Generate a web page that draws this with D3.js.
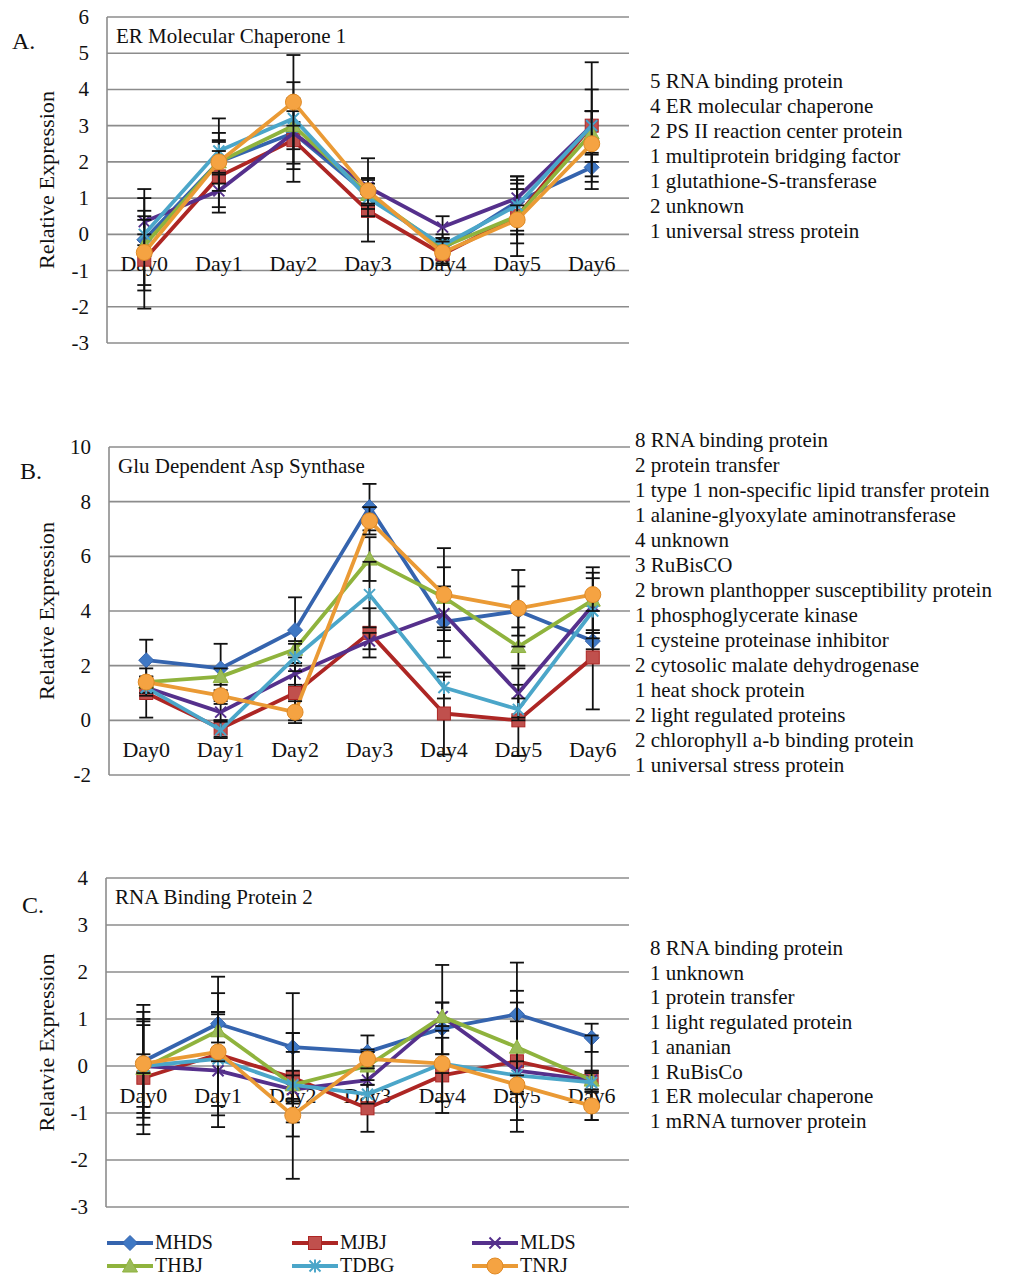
<!DOCTYPE html>
<html>
<head>
<meta charset="utf-8">
<script src="https://cdn.jsdelivr.net/npm/d3@7"></script>
<style>
  body { margin: 0; background: #fff; }
  svg { display: block; }
</style>
</head>
<body>
<svg id="chart" width="1021" height="1279"></svg>
<script>
// Shared categories and series
const days = ['Day0', 'Day1', 'Day2', 'Day3', 'Day4', 'Day5', 'Day6']
const seriesNames = ['MHDS', 'MJBJ', 'MLDS', 'THBJ', 'TDBG', 'TNRJ']
const seriesColors = ['#3564ae', '#ad2624', '#55308c', '#8fb33d', '#4ba6c9', '#ea9a35']
const markerFills = ['#3f78c4', '#c0504d', '#55308c', '#9bbb59', '#4bacc6', '#f5a342']
const markerTypes = ['diamond', 'square', 'x', 'triangle', 'star', 'circle']

// Panel A: ER Molecular Chaperone 1 (rows follow seriesNames)
const aTicks = [6, 5, 4, 3, 2, 1, 0, -1, -2, -3]
const aMeans = [
  [-0.15, 2.0, 2.8, 1.1, -0.4, 0.9, 1.85],
  [-0.7, 1.6, 2.6, 0.65, -0.55, 0.5, 3.0],
  [0.35, 1.2, 2.8, 1.3, 0.2, 1.0, 3.0],
  [-0.3, 2.0, 3.0, 1.1, -0.35, 0.5, 2.8],
  [0.0, 2.3, 3.2, 1.0, -0.3, 0.8, 3.0],
  [-0.5, 2.0, 3.65, 1.2, -0.5, 0.4, 2.5]
]
const aErrors = [
  [1.4, 0.55, 0.3, 0.45, 0.3, 0.5, 0.4],
  [1.35, 1.0, 1.15, 0.85, 0.3, 1.1, 1.75],
  [0.65, 0.45, 0.85, 0.8, 0.3, 0.6, 1.0],
  [0.3, 0.8, 1.2, 0.3, 0.2, 0.75, 0.6],
  [0.5, 0.9, 0.2, 0.3, 0.3, 0.7, 0.4],
  [0.9, 0.3, 1.3, 0.35, 0.3, 0.4, 0.9]
]
const aNotes = [
  '5 RNA binding protein',
  '4 ER molecular chaperone',
  '2 PS II reaction center protein',
  '1 multiprotein bridging factor',
  '1 glutathione-S-transferase',
  '2 unknown',
  '1 universal stress protein'
]

// Panel B: Glu Dependent Asp Synthase
const bTicks = [10, 8, 6, 4, 2, 0, -2]
const bMeans = [
  [2.2, 1.9, 3.3, 7.8, 3.6, 4.0, 2.9],
  [1.0, -0.3, 1.0, 3.2, 0.25, 0.0, 2.3],
  [1.2, 0.3, 1.7, 2.9, 3.9, 1.0, 4.2],
  [1.4, 1.6, 2.6, 5.9, 4.5, 2.7, 4.4],
  [1.2, -0.35, 2.3, 4.6, 1.2, 0.4, 4.0],
  [1.4, 0.9, 0.3, 7.3, 4.6, 4.1, 4.6]
]
const bErrors = [
  [0.75, 0.9, 1.2, 0.85, 1.3, 0.9, 0.3],
  [0.9, 0.3, 1.0, 0.9, 1.5, 1.3, 1.9],
  [0.3, 0.3, 0.4, 0.3, 0.6, 0.9, 1.2],
  [0.2, 0.3, 0.3, 0.8, 1.1, 0.7, 1.2],
  [0.2, 0.3, 0.5, 1.2, 0.4, 0.4, 0.7],
  [0.2, 0.2, 0.4, 0.5, 1.7, 1.4, 0.6]
]
const bNotes = [
  '8 RNA binding protein',
  '2 protein transfer',
  '1 type 1 non-specific lipid transfer protein',
  '1 alanine-glyoxylate aminotransferase',
  '4 unknown',
  '3 RuBisCO',
  '2 brown planthopper susceptibility protein',
  '1 phosphoglycerate kinase',
  '1 cysteine proteinase inhibitor',
  '2 cytosolic malate dehydrogenase',
  '1 heat shock protein',
  '2 light regulated proteins',
  '2 chlorophyll a-b binding protein',
  '1 universal stress protein'
]

// Panel C: RNA Binding Protein 2
const cTicks = [4, 3, 2, 1, 0, -1, -2, -3]
const cMeans = [
  [0.1, 0.9, 0.4, 0.3, 0.8, 1.1, 0.6],
  [-0.25, 0.25, -0.25, -0.9, -0.2, 0.1, -0.25],
  [0.0, -0.1, -0.5, -0.3, 1.05, -0.1, -0.3],
  [-0.05, 0.75, -0.4, 0.0, 1.05, 0.4, -0.3],
  [0.0, 0.15, -0.4, -0.6, 0.05, -0.2, -0.35],
  [0.05, 0.3, -1.05, 0.15, 0.05, -0.4, -0.85]
]
const cErrors = [
  [1.2, 1.0, 1.15, 0.35, 0.55, 1.1, 0.3],
  [1.2, 1.3, 0.95, 0.5, 0.8, 1.5, 0.9],
  [1.0, 1.2, 0.3, 0.3, 1.1, 1.05, 0.2],
  [1.2, 0.4, 1.1, 0.3, 0.3, 0.95, 0.2],
  [0.87, 1.0, 0.3, 0.2, 0.8, 0.3, 0.2],
  [0.2, 0.2, 1.35, 0.2, 0.2, 0.2, 0.3]
]
const cNotes = [
  '8 RNA binding protein',
  '1 unknown',
  '1 protein transfer',
  '1 light regulated protein',
  '1 ananian',
  '1 RuBisCo',
  '1 ER molecular chaperone',
  '1 mRNA turnover protein'
]

const FONT = '"Liberation Serif", "Times New Roman", serif'
const svg = d3.select('#chart')

/**
 * Draw one marker shape centred at 0,0
 */
function drawMarker(sel, type, i) {
  const stroke = seriesColors[i]
  const fill = markerFills[i]
  if (type === 'diamond') {
    sel.append('path').attr('d', 'M0,-7.5L7.5,0L0,7.5L-7.5,0Z')
      .attr('fill', fill).attr('stroke', stroke).attr('stroke-width', 1)
  } else if (type === 'square') {
    sel.append('rect').attr('x', -6.5).attr('y', -6.5).attr('width', 13).attr('height', 13)
      .attr('fill', fill).attr('stroke', stroke).attr('stroke-width', 1)
  } else if (type === 'triangle') {
    sel.append('path').attr('d', 'M0,-7.5L7.5,6L-7.5,6Z')
      .attr('fill', fill).attr('stroke', stroke).attr('stroke-width', 1)
  } else if (type === 'circle') {
    sel.append('circle').attr('r', 8)
      .attr('fill', fill).attr('stroke', '#e08a25').attr('stroke-width', 1)
  } else if (type === 'x') {
    sel.append('path').attr('d', 'M-5.5,-5.5L5.5,5.5M5.5,-5.5L-5.5,5.5')
      .attr('stroke', stroke).attr('stroke-width', 2).attr('fill', 'none')
  } else if (type === 'star') {
    sel.append('path').attr('d', 'M-5.5,-5.5L5.5,5.5M5.5,-5.5L-5.5,5.5M0,-6.5L0,6.5')
      .attr('stroke', stroke).attr('stroke-width', 2).attr('fill', 'none')
  }
}

/**
 * Draw one panel: grid, axis labels, error bars, series lines and markers
 */
function drawPanel(cfg) {
  const y = d3.scaleLinear()
    .domain([d3.min(cfg.ticks), d3.max(cfg.ticks)])
    .range([cfg.bottom, cfg.top])
  const x = d3.scalePoint()
    .domain(days)
    .range([cfg.left, cfg.right])
    .padding(0.5)

  const g = svg.append('g')

  // Gridlines
  g.selectAll('.grid')
    .data(cfg.ticks)
    .join('line')
    .attr('x1', cfg.left)
    .attr('x2', cfg.right)
    .attr('y1', d => y(d))
    .attr('y2', d => y(d))
    .attr('stroke', '#8c8c8c')
    .attr('stroke-width', 1.6)

  // Left axis line
  g.append('line')
    .attr('x1', cfg.left).attr('x2', cfg.left)
    .attr('y1', y.range()[1]).attr('y2', y.range()[0])
    .attr('stroke', '#8c8c8c')
    .attr('stroke-width', 1.6)

  // Tick labels
  g.selectAll('.tick')
    .data(cfg.ticks)
    .join('text')
    .attr('x', cfg.left - 18)
    .attr('y', d => y(d) + 7)
    .attr('text-anchor', 'end')
    .attr('font-family', FONT)
    .attr('font-size', '21px')
    .attr('fill', '#111')
    .text(d => d)

  // Category labels sit just under the zero line
  g.selectAll('.day')
    .data(days)
    .join('text')
    .attr('x', d => x(d))
    .attr('y', y(0) + 37)
    .attr('text-anchor', 'middle')
    .attr('font-family', FONT)
    .attr('font-size', '22px')
    .attr('fill', '#111')
    .text(d => d)

  // Title inside plot
  g.append('text')
    .attr('x', cfg.left + 9)
    .attr('y', y(d3.max(cfg.ticks)) + 26)
    .attr('font-family', FONT)
    .attr('font-size', '21px')
    .attr('fill', '#111')
    .text(cfg.title)

  // Panel letter
  g.append('text')
    .attr('x', cfg.letterX)
    .attr('y', cfg.letterY)
    .attr('font-family', FONT)
    .attr('font-size', '24px')
    .attr('fill', '#111')
    .text(cfg.letter)

  // Y axis title
  const midY = (cfg.top + cfg.bottom) / 2
  g.append('text')
    .attr('transform', `translate(54, ${midY}) rotate(-90)`)
    .attr('text-anchor', 'middle')
    .attr('font-family', FONT)
    .attr('font-size', '20px')
    .attr('textLength', 178)
    .attr('lengthAdjust', 'spacingAndGlyphs')
    .attr('fill', '#111')
    .text(cfg.yTitle)

  const line = d3.line()
    .x((d, i) => x(days[i]))
    .y(d => y(d))

  cfg.means.forEach((vals, si) => {
    // Series line
    g.append('path')
      .datum(vals)
      .attr('d', line)
      .attr('fill', 'none')
      .attr('stroke', seriesColors[si])
      .attr('stroke-width', 3.8)
      .attr('stroke-linejoin', 'round')

    // Error bars
    const bars = g.selectAll(null)
      .data(vals.map((v, i) => ({ v, e: cfg.errors[si][i], day: days[i] })))
      .join('g')
      .attr('transform', d => `translate(${x(d.day)},0)`)
    bars.append('line')
      .attr('y1', d => y(d.v - d.e)).attr('y2', d => y(d.v + d.e))
      .attr('stroke', '#111').attr('stroke-width', 1.8)
    bars.append('line')
      .attr('x1', -7).attr('x2', 7)
      .attr('y1', d => y(d.v + d.e)).attr('y2', d => y(d.v + d.e))
      .attr('stroke', '#111').attr('stroke-width', 1.8)
    bars.append('line')
      .attr('x1', -7).attr('x2', 7)
      .attr('y1', d => y(d.v - d.e)).attr('y2', d => y(d.v - d.e))
      .attr('stroke', '#111').attr('stroke-width', 1.8)

    // Markers
    g.selectAll(null)
      .data(vals)
      .join('g')
      .attr('transform', (d, i) => `translate(${x(days[i])},${y(d)})`)
      .each(function () { drawMarker(d3.select(this), markerTypes[si], si) })
  })

  // Side notes
  g.selectAll('.note')
    .data(cfg.notes)
    .join('text')
    .attr('x', cfg.notesX)
    .attr('y', (d, i) => cfg.notesY + i * cfg.notesStep)
    .attr('font-family', FONT)
    .attr('font-size', '21px')
    .attr('fill', '#111')
    .text(d => d)
}

drawPanel({
  ticks: aTicks, means: aMeans, errors: aErrors, notes: aNotes,
  top: 17, bottom: 343, left: 107, right: 629,
  title: 'ER Molecular Chaperone 1', letter: 'A.', letterX: 12, letterY: 49,
  yTitle: 'Relative Expression',
  notesX: 650, notesY: 88, notesStep: 25
})

drawPanel({
  ticks: bTicks, means: bMeans, errors: bErrors, notes: bNotes,
  top: 447, bottom: 775, left: 109, right: 630,
  title: 'Glu Dependent Asp Synthase', letter: 'B.', letterX: 20, letterY: 479,
  yTitle: 'Relative Expression',
  notesX: 635, notesY: 447, notesStep: 25
})

drawPanel({
  ticks: cTicks, means: cMeans, errors: cErrors, notes: cNotes,
  top: 878, bottom: 1207, left: 106, right: 629,
  title: 'RNA Binding Protein 2', letter: 'C.', letterX: 22, letterY: 913,
  yTitle: 'Relatvie Expression',
  notesX: 650, notesY: 955, notesStep: 24.7
})

// Legend
const legendCols = [107, 292, 472]
const legendRows = [1243, 1266]
const legend = svg.append('g')
seriesNames.forEach((name, i) => {
  const lx = legendCols[i % 3]
  const ly = legendRows[Math.floor(i / 3)]
  const item = legend.append('g').attr('transform', `translate(${lx},${ly})`)
  item.append('line')
    .attr('x1', 0).attr('x2', 46).attr('y1', 0).attr('y2', 0)
    .attr('stroke', seriesColors[i]).attr('stroke-width', 3.8)
  drawMarker(item.append('g').attr('transform', 'translate(23,0)'), markerTypes[i], i)
  item.append('text')
    .attr('x', 48).attr('y', 6)
    .attr('font-family', FONT)
    .attr('font-size', '20px')
    .attr('fill', '#111')
    .text(name)
})
</script>
</body>
</html>
